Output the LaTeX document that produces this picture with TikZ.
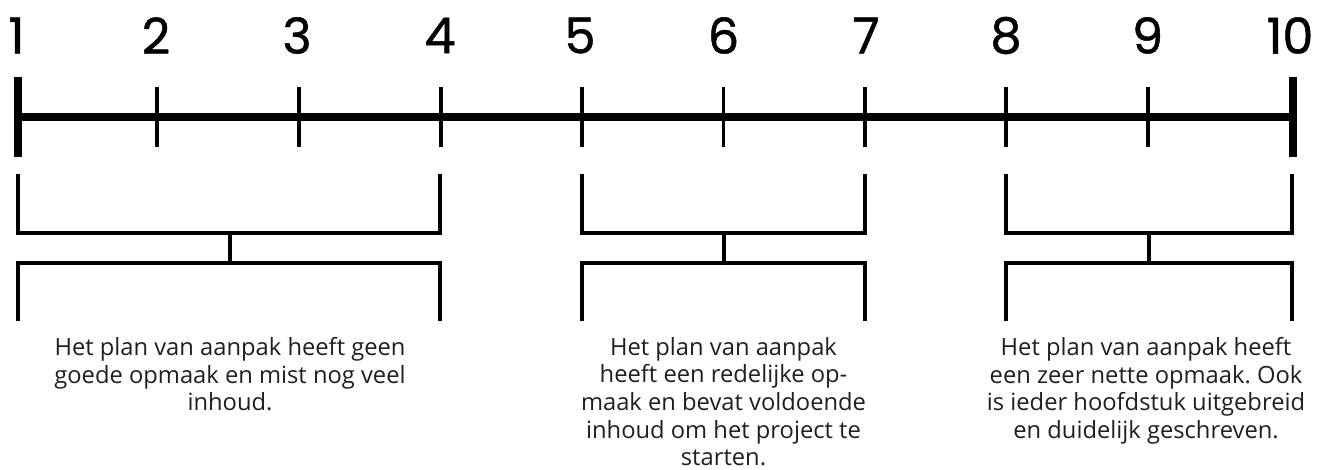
\documentclass[tikz,border=0pt]{standalone}
\usepackage{fontspec}
\setmainfont{Open Sans}
\newfontfamily\numfont[FakeBold=1]{Poppins}
\frenchspacing
\begin{document}
\begin{tikzpicture}[x=0.75pt,y=-0.75pt,
  num/.style={font=\numfont\fontsize{37}{40}\selectfont, inner sep=0pt, anchor=center},
  desc/.style={font=\fontsize{17.8}{20.7}\selectfont, align=center, text=black!88, anchor=north, inner sep=0pt},
  axisline/.style={line width=6pt},
  endbar/.style={line width=6pt},
  tickline/.style={line width=2.5pt},
  brk/.style={line width=3pt, miter limit=10}]
\useasboundingbox (0,0) rectangle (1317,470);

% tick positions
\coordinate (t1) at (18,117.5);
\coordinate (t2) at (157,117.5);
\coordinate (t3) at (299,117.5);
\coordinate (t4) at (441,117.5);
\coordinate (t5) at (582,117.5);
\coordinate (t6) at (723.5,117.5);
\coordinate (t7) at (865,117.5);
\coordinate (t8) at (1006,117.5);
\coordinate (t9) at (1148,117.5);
\coordinate (t10) at (1293,117.5);

% axis
\draw[axisline] (t1) -- (t10);
\draw[endbar] ([yshift=-40*0.75pt]t1) -- ([yshift=40*0.75pt]t1);
\draw[endbar] ([yshift=-40*0.75pt]t10) -- ([yshift=40*0.75pt]t10);
\foreach \i in {2,...,9}{
  \draw[tickline] ([yshift=-30*0.75pt]t\i) -- ([yshift=30*0.75pt]t\i);
}

% numbers
\node[num] (n1) at (16.5,35.5) {1};
\node[num] (n2) at (156,35.5) {2};
\node[num] (n3) at (297,35.5) {3};
\node[num] (n4) at (440,35.5) {4};
\node[num] (n5) at (580,35.5) {5};
\node[num] (n6) at (723.5,35.5) {6};
\node[num] (n7) at (866,35.5) {7};
\node[num] (n8) at (1006,35.5) {8};
\node[num] (n9) at (1147.5,35.5) {9};
\node[num] (n10) at (1290,35.5) {10};

% brackets
\foreach \L/\M/\R in {18/230/440, 582/723.5/865, 1005.5/1149/1292}{
  \draw[brk] (\L,174) -- (\L,233) -- (\R,233) -- (\R,174);
  \draw[brk] (\M,233) -- (\M,263);
  \draw[brk] (\L,321) -- (\L,263) -- (\R,263) -- (\R,321);
}

% descriptions
\node[desc] (d1) at (230,337) {Het plan van aanpak heeft geen\\goede opmaak en mist nog veel\\inhoud.};
\node[desc] (d2) at (723.5,337) {Het plan van aanpak\\heeft een redelijke op-\\maak en bevat voldoende\\inhoud om het project te\\starten.};
\node[desc] (d3) at (1146,337) {Het plan van aanpak heeft\\een zeer nette opmaak. Ook\\is ieder hoofdstuk uitgebreid\\en duidelijk geschreven.};
\end{tikzpicture}
\end{document}
